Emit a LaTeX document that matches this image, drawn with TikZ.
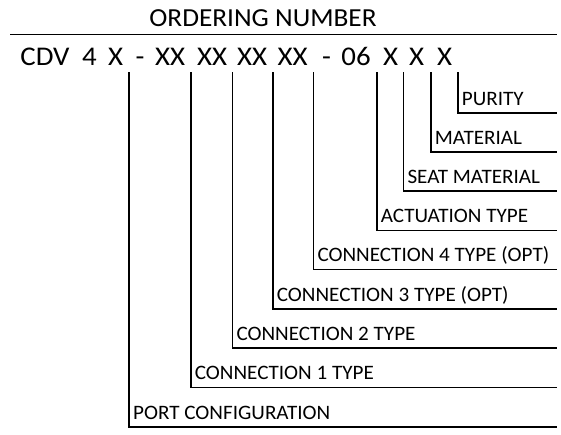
\documentclass[tikz,border=0pt]{standalone}
\usepackage{fontspec}
\setmainfont{Carlito}
\tikzset{
  lbl/.style={anchor=base west, inner sep=0pt, font=\fontsize{20.5}{20.5}\selectfont},
  leader/.style={line width=1.6pt},
  tok/.style={anchor=base, inner sep=0pt, font=\fontsize{27}{27}\selectfont},
}
\newcommand{\wlbl}[1]{\scalebox{1.03}[1]{#1}}
\newcommand{\wtok}[1]{\scalebox{1.07}[1]{#1}}
\begin{document}
\begin{tikzpicture}[x=1pt,y=-1pt]
\useasboundingbox (0,0) rectangle (561,434);
\node[anchor=base, inner sep=0pt, font=\fontsize{26}{26}\selectfont] (title) at (263,26) {\scalebox{1.05}[1]{ORDERING NUMBER}};
\coordinate (rl) at (10,34.5);
\coordinate (rr) at (556.5,34.5);
\draw[line width=1.8pt] (rl) -- (rr);
\foreach \n/\x/\t in {c1/45/CDV, c2/89.5/4, c3/115.5/X, c4/140/-, c5/170/XX, c6/212/XX, c7/252/XX, c8/292.5/XX, c9/326.5/-, c10/356/06, c11/390.5/X, c12/416.5/X, c13/444.5/X}{
  \node[tok] (\n) at (\x,65) {\wtok{\t}};
}
\foreach \n/\x/\y/\t in {
  p1/129/426.7/PORT CONFIGURATION,
  p2/190.7/387.3/CONNECTION 1 TYPE,
  p3/232.3/347.8/CONNECTION 2 TYPE,
  p4/272.7/309/CONNECTION 3 TYPE (OPT),
  p5/313.3/269.5/CONNECTION 4 TYPE (OPT),
  p6/376.7/230.3/ACTUATION TYPE,
  p7/403.3/191.2/SEAT MATERIAL,
  p8/430.7/151.8/MATERIAL,
  p9/457.7/112.7/PURITY}{
  \coordinate (\n top) at (\x,72);
  \coordinate (\n end) at (556.5,\y);
  \node[lbl] (\n lbl) at (\x+4,\y-7.7) {\wlbl{\t}};
  \draw[leader] (\n top) |- (\n end);
}
\end{tikzpicture}
\end{document}
